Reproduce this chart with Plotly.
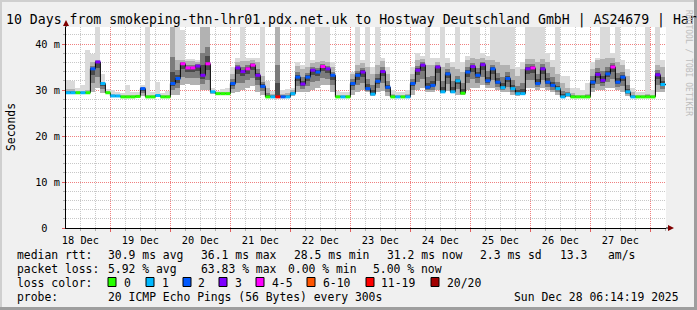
import plotly.graph_objects as go
import pandas as pd

# ---------------- data ----------------
TITLE = "10 Days from smokeping-thn-lhr01.pdx.net.uk to Hostway Deutschland GmbH | AS24679 | Har"
BIN_START = "2025-12-18 06:00"          # 2-hour bins
X_RANGE = ["2025-12-18 06:14:19", "2025-12-28 06:14:19"]
Y_TICKVALS = [0, 10, 20, 30, 40]
Y_TICKTEXT = ["0\u00a0\u00a0", "10 m", "20 m", "30 m", "40 m"]

LOSS_LABELS = ["0", "1", "2", "3", "4-5", "6-10", "11-19", "20/20"]
LOSS_COLORS = ["#26ff00", "#00b8ff", "#0059ff", "#7e00ff", "#ff00ff", "#ff5500", "#ff0000", "#a10000"]

# median rtt in ms, one value per 2-hour bin
median_ms = [
    29.4, 29.4, 29.4, 29.4, 29.4, 34.6, 36.1, 31.4, 29.4, 28.7, 28.7, 28.5,
    28.5, 28.5, 28.6, 30.3, 28.5, 28.5, 28.8, 28.5, 28.5, 31.4, 32.5, 35.7,
    34.8, 34.8, 35.2, 33.2, 35.7, 29.6, 29.2, 29.2, 29.2, 31.4, 34.8, 34.0,
    34.6, 35.4, 33.2, 30.8, 28.5, 28.5, 28.5, 28.5, 28.5, 29.2, 32.8, 31.3,
    32.8, 34.3, 33.9, 35.1, 34.6, 33.2, 28.5, 28.5, 28.5, 31.4, 33.2, 33.9,
    30.3, 29.1, 31.9, 34.0, 30.6, 28.5, 28.5, 28.5, 28.5, 31.4, 34.3, 35.4,
    30.6, 31.0, 35.0, 29.6, 33.5, 29.6, 32.0, 29.3, 33.9, 35.1, 33.2, 35.5,
    32.0, 34.6, 31.7, 30.5, 32.5, 30.3, 29.2, 29.2, 34.6, 34.8, 31.4, 34.6,
    31.7, 31.0, 30.3, 28.5, 29.0, 28.5, 28.5, 28.5, 28.5, 31.7, 33.4, 32.1,
    33.5, 35.0, 31.7, 32.8, 29.6, 28.5, 28.5, 28.5, 28.5, 28.5, 33.3, 31.2,
]
# loss bucket index into LOSS_LABELS
loss_bucket = [
    1, 1, 0, 1, 0, 2, 3, 1, 0, 1, 1, 0,
    0, 0, 0, 2, 0, 0, 1, 0, 0, 2, 2, 4,
    4, 4, 3, 3, 4, 1, 0, 0, 0, 2, 3, 3,
    4, 4, 3, 2, 0, 1, 6, 2, 1, 1, 2, 3,
    2, 3, 2, 4, 3, 2, 0, 1, 0, 2, 2, 3,
    2, 1, 2, 3, 2, 0, 1, 0, 1, 2, 3, 3,
    2, 2, 3, 1, 2, 1, 1, 0, 2, 3, 2, 3,
    2, 2, 2, 1, 2, 1, 1, 1, 3, 4, 2, 3,
    2, 2, 1, 1, 1, 0, 0, 0, 0, 2, 3, 3,
    2, 4, 2, 2, 1, 1, 0, 0, 0, 0, 3, 1,
]
# smoke: lowest ping, upper edge of dense smoke, highest ping (ms)
smoke_lo = [
    29.2, 29.2, 29.2, 29.2, 29.2, 29.5, 30.5, 29.4, 29.3, 28.5, 28.5, 28.4,
    28.4, 28.4, 28.4, 28.6, 28.4, 28.4, 28.5, 28.4, 28.4, 29.0, 29.0, 31.0,
    31.2, 31.0, 31.0, 30.0, 30.0, 29.2, 29.1, 29.1, 29.1, 29.3, 29.5, 30.0,
    30.5, 30.8, 29.5, 29.0, 28.4, 28.4, 28.4, 28.4, 28.4, 28.8, 29.5, 29.5,
    29.5, 30.0, 30.5, 31.0, 31.0, 29.5, 28.4, 28.4, 28.4, 29.0, 29.5, 30.0,
    29.5, 28.8, 29.5, 29.8, 28.8, 28.4, 28.4, 28.4, 28.4, 29.0, 30.0, 30.5,
    29.5, 29.5, 30.0, 29.3, 29.8, 29.3, 29.0, 29.0, 30.0, 30.5, 30.5, 31.0,
    30.5, 30.5, 30.0, 29.5, 29.5, 29.0, 28.8, 29.0, 30.5, 30.5, 30.0, 30.5,
    30.0, 29.5, 29.0, 28.4, 28.4, 28.4, 28.4, 28.4, 28.4, 29.5, 30.0, 30.0,
    30.5, 30.5, 30.0, 29.5, 28.8, 28.4, 28.4, 28.4, 28.4, 28.4, 29.5, 29.5,
]
smoke_hi = [
    30.2, 30.3, 29.8, 29.8, 30.0, 36.0, 36.5, 31.8, 29.7, 29.1, 29.0, 28.9,
    28.9, 28.9, 29.0, 30.6, 28.9, 28.9, 29.2, 28.9, 29.0, 44.0, 36.5, 36.5,
    36.3, 36.3, 36.0, 44.0, 44.0, 29.8, 29.6, 29.6, 29.6, 33.5, 36.0, 36.2,
    36.3, 36.5, 36.0, 33.0, 30.5, 29.2, 44.0, 29.2, 29.3, 30.0, 35.3, 34.5,
    35.0, 35.8, 36.0, 36.3, 36.0, 35.0, 29.0, 29.0, 29.0, 33.5, 35.5, 35.8,
    35.0, 33.5, 35.5, 36.2, 33.5, 29.2, 29.0, 29.0, 29.2, 33.5, 36.5, 36.8,
    35.5, 35.5, 36.0, 35.0, 35.8, 35.0, 34.5, 34.0, 36.5, 37.0, 36.8, 37.0,
    36.5, 36.5, 36.0, 35.5, 35.5, 34.5, 33.0, 34.5, 36.8, 36.8, 36.0, 36.8,
    36.0, 35.0, 33.5, 31.5, 30.5, 29.3, 29.0, 29.0, 29.2, 34.5, 36.5, 36.8,
    37.0, 37.0, 36.0, 35.5, 33.0, 29.5, 29.0, 29.0, 29.2, 29.0, 35.5, 35.0,
]
smoke_top = [
    32.1, 32.0, 30.5, 31.0, 38.7, 37.8, 44.0, 33.5, 30.2, 29.9, 29.5, 29.3,
    31.0, 29.5, 29.5, 31.0, 44.0, 29.6, 31.7, 29.3, 29.8, 44.0, 44.0, 43.0,
    36.8, 36.7, 36.5, 44.0, 44.0, 30.5, 29.8, 30.3, 30.5, 35.0, 37.0, 44.0,
    37.0, 37.0, 37.0, 44.0, 32.0, 29.8, 44.0, 30.0, 30.2, 30.5, 36.0, 35.5,
    44.0, 36.5, 44.0, 44.0, 44.0, 36.0, 29.8, 29.5, 29.5, 34.0, 44.0, 36.5,
    44.0, 35.0, 44.0, 37.0, 35.0, 30.0, 29.5, 29.5, 30.0, 35.0, 38.0, 37.5,
    44.0, 37.0, 37.0, 44.0, 37.0, 36.0, 44.0, 36.0, 37.5, 44.0, 44.0, 38.0,
    37.5, 44.0, 44.0, 44.0, 44.0, 44.0, 35.0, 36.0, 44.0, 44.0, 44.0, 44.0,
    38.0, 36.5, 44.0, 33.0, 33.0, 30.5, 30.5, 30.0, 31.5, 36.0, 37.0, 44.0,
    44.0, 38.0, 44.0, 36.5, 34.5, 30.5, 29.5, 29.5, 44.0, 30.0, 44.0, 36.5,
]

LEGEND_ROWS = [
    ["median rtt:", "30.9 ms avg", "36.1 ms max", "28.5 ms min", "31.2 ms now", "2.3 ms sd", "13.3", "am/s"],
    ["packet loss:", "5.92 % avg", "63.83 % max", "0.00 % min", "5.00 % now"],
    ["loss color:"],
    ["probe:", "20 ICMP Echo Pings (56 Bytes) every 300s", "Sun Dec 28 06:14:19 2025"],
]
LEGEND_X = [
    [16, 107, 200, 293, 386, 479, 559, 607],
    [16, 107, 200, 287, 372],
    [16],
    [16, 107, 513],
]
LEGEND_Y = [254, 268, 282, 296]
SWATCH_X = [108, 146, 183, 219, 256, 307, 366, 431]
SWATCH_LABEL_X = [123, 161, 197, 234, 271, 322, 380, 446]

# ---------------- geometry helpers ----------------
W_FIG, H_FIG = 697, 310
L, T, PW, PH = 66, 27, 600, 201
R = W_FIG - L - PW
B = H_FIG - T - PH


def px(x):
    return (x - L) / PW


def py(y):
    return (T + PH - y) / PH


MONO = "DejaVu Sans Mono"
LEG_SIZE = 11.4
HOUR = pd.Timedelta(hours=1)
bins = pd.date_range(BIN_START, periods=len(median_ms), freq="2h")
centers = bins + HOUR
bw = 2 * 3600 * 1000

fig = go.Figure()

# smoke
bands = []
for i in range(len(median_ms)):
    lo, hi, m = smoke_lo[i], smoke_hi[i], median_ms[i]
    bands.append((lo + 0.4 * (m - lo), m + 0.45 * (hi - m), lo + 0.75 * (m - lo), m + 0.2 * (hi - m)))

fig.add_trace(go.Bar(x=centers, base=smoke_lo, y=[t - l for t, l in zip(smoke_top, smoke_lo)],
                     width=bw, marker=dict(color="#dadada", line=dict(width=0)), hoverinfo="skip"))
fig.add_trace(go.Bar(x=centers, base=smoke_lo, y=[h - l for h, l in zip(smoke_hi, smoke_lo)],
                     width=bw, marker=dict(color="#b2b2b2", line=dict(width=0)), hoverinfo="skip"))
fig.add_trace(go.Bar(x=centers, base=[b[0] for b in bands], y=[b[1] - b[0] for b in bands],
                     width=bw, marker=dict(color="#7c7c7c", line=dict(width=0)), hoverinfo="skip"))
fig.add_trace(go.Bar(x=centers, base=[b[2] for b in bands], y=[b[3] - b[2] for b in bands],
                     width=bw, marker=dict(color="#4a4a4a", line=dict(width=0)), hoverinfo="skip"))

# median line (black step)
fig.add_trace(go.Scatter(x=list(bins) + [pd.Timestamp(X_RANGE[1])], y=median_ms + [median_ms[-1]],
                         mode="lines", line=dict(color="#000000", width=1, shape="hv"), hoverinfo="skip"))

# loss-coloured median segments
for c, col in enumerate(LOSS_COLORS):
    xs, ys = [], []
    for i, lb in enumerate(loss_bucket):
        if lb == c:
            xs += [bins[i], bins[i] + 2 * HOUR, None]
            ys += [median_ms[i], median_ms[i], None]
    if xs:
        fig.add_trace(go.Scatter(x=xs, y=ys, mode="lines", line=dict(color=col, width=3),
                                 hoverinfo="skip"))

annotations = []
shapes = []

annotations.append(dict(text=TITLE, xref="paper", yref="paper", x=px(4), y=py(20),
                        xanchor="left", yanchor="middle", showarrow=False,
                        font=dict(family=MONO, size=13.2, color="#000")))
annotations.append(dict(text="Seconds", xref="paper", yref="paper", x=px(11), y=py(127),
                        xanchor="center", yanchor="middle", showarrow=False, textangle=-90,
                        font=dict(family=MONO, size=11.4, color="#000")))
annotations.append(dict(text="RRDTOOL / TOBI OETIKER", xref="paper", yref="paper", x=px(688), y=py(63),
                        xanchor="center", yanchor="middle", showarrow=False, textangle=90,
                        font=dict(family=MONO, size=8, color="#bdbdbd")))

for row, xsr, yr in zip(LEGEND_ROWS, LEGEND_X, LEGEND_Y):
    for txt, xx in zip(row, xsr):
        annotations.append(dict(text=txt, xref="paper", yref="paper", x=px(xx - 1), y=py(yr + 1),
                                xanchor="left", yanchor="middle", showarrow=False,
                                font=dict(family=MONO, size=LEG_SIZE, color="#000")))

for lab, col, sx, lx in zip(LOSS_LABELS, LOSS_COLORS, SWATCH_X, SWATCH_LABEL_X):
    shapes.append(dict(type="rect", xref="paper", yref="paper", x0=px(sx), x1=px(sx + 8),
                       y0=py(286.5), y1=py(277.5), fillcolor=col, line=dict(color="#000", width=1)))
    annotations.append(dict(text=lab, xref="paper", yref="paper", x=px(lx - 1), y=py(283),
                            xanchor="left", yanchor="middle", showarrow=False,
                            font=dict(family=MONO, size=LEG_SIZE, color="#000")))

# axis extensions and arrows
shapes.append(dict(type="line", xref="paper", yref="paper", x0=1, x1=px(669), y0=0, y1=0,
                   line=dict(color="#000", width=1)))
shapes.append(dict(type="path", xref="paper", yref="paper",
                   path=f"M {px(668)} {py(225)} L {px(674)} {py(228)} L {px(668)} {py(231)} Z",
                   fillcolor="#7f0000", line=dict(width=0)))
shapes.append(dict(type="line", xref="paper", yref="paper", x0=0, x1=0, y0=1, y1=py(24),
                   line=dict(color="#000", width=1)))
shapes.append(dict(type="path", xref="paper", yref="paper",
                   path=f"M {px(63)} {py(26)} L {px(66)} {py(20)} L {px(69)} {py(26)} Z",
                   fillcolor="#7f0000", line=dict(width=0)))

# frame
shapes.append(dict(type="rect", xref="paper", yref="paper", x0=px(0), x1=px(697), y0=py(2), y1=py(0),
                   fillcolor="#cfcfcf", line=dict(width=0)))
shapes.append(dict(type="rect", xref="paper", yref="paper", x0=px(0), x1=px(2), y0=py(310), y1=py(0),
                   fillcolor="#cfcfcf", line=dict(width=0)))
shapes.append(dict(type="rect", xref="paper", yref="paper", x0=px(694), x1=px(697), y0=py(310), y1=py(0),
                   fillcolor="#9e9e9e", line=dict(width=0)))
shapes.append(dict(type="rect", xref="paper", yref="paper", x0=px(0), x1=px(697), y0=py(310), y1=py(307),
                   fillcolor="#9e9e9e", line=dict(width=0)))

fig.update_layout(
    width=W_FIG, height=H_FIG,
    margin=dict(l=L, r=R, t=T, b=B, pad=0),
    paper_bgcolor="#f0f0f0", plot_bgcolor="#ffffff",
    showlegend=False, barmode="overlay", bargap=0,
    annotations=annotations, shapes=shapes,
    hovermode=False,
    xaxis=dict(
        type="date", range=X_RANGE, tick0="2025-12-18", dtick=86400000,
        ticklabelmode="period", tickformat="%d %b",
        showgrid=True, gridcolor="#f08080", griddash="1px,1px", gridwidth=1,
        ticks="outside", ticklen=3, tickcolor="#e06060",
        showline=True, linecolor="#000", linewidth=1, zeroline=False,
        tickfont=dict(family=MONO, size=10.3, color="#000"),
        minor=dict(dtick=21600000, showgrid=True, gridcolor="#c8c8c8", griddash="1px,1px",
                   ticks="outside", ticklen=2, tickcolor="#b0b0b0"),
        fixedrange=True,
    ),
    yaxis=dict(
        range=[0, PH / 4.6], tickvals=Y_TICKVALS, ticktext=Y_TICKTEXT,
        showgrid=True, gridcolor="#f08080", griddash="1px,1px", gridwidth=1,
        ticks="outside", ticklen=3, tickcolor="#e06060",
        showline=True, linecolor="#000", linewidth=1, zeroline=False,
        tickfont=dict(family=MONO, size=10.3, color="#000"),
        minor=dict(dtick=2, showgrid=True, gridcolor="#c8c8c8", griddash="1px,1px",
                   ticks="outside", ticklen=2, tickcolor="#b0b0b0"),
        fixedrange=True,
    ),
)

fig.write_html("out.html", config={"displayModeBar": False, "staticPlot": True})
